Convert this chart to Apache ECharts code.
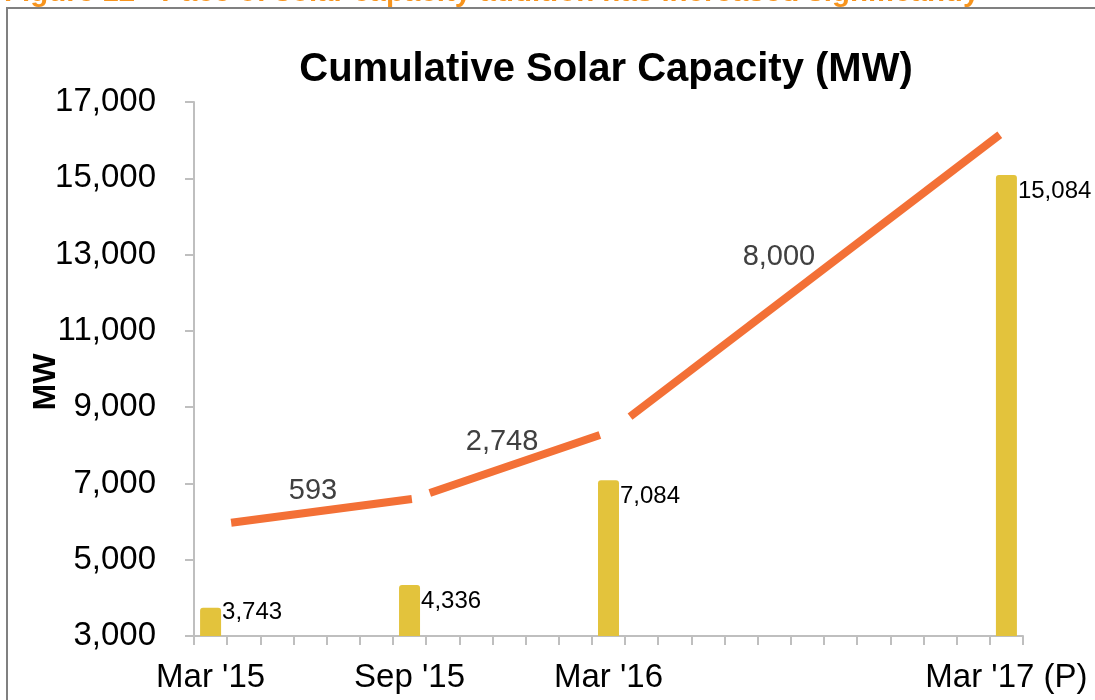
<!DOCTYPE html>
<html>
<head>
<meta charset="utf-8">
<script src="https://cdn.jsdelivr.net/npm/echarts@6/dist/echarts.min.js"></script>
<style>
  html, body { margin: 0; padding: 0; background: #fff; }
  #chart { width: 1095px; height: 700px; }
</style>
</head>
<body>
<div id="chart"></div>
<script>
// monthly slots on the x axis, Mar '15 .. Mar '17
const months = ["Mar '15", "Apr '15", "May '15", "Jun '15", "Jul '15", "Aug '15", "Sep '15",
  "Oct '15", "Nov '15", "Dec '15", "Jan '16", "Feb '16", "Mar '16", "Apr '16", "May '16",
  "Jun '16", "Jul '16", "Aug '16", "Sep '16", "Oct '16", "Nov '16", "Dec '16", "Jan '17",
  "Feb '17", "Mar '17 (P)"]
const shownLabels = ["Mar '15", "Sep '15", "Mar '16", "Mar '17 (P)"]
const capacity = [3743, 4336, 7084, 15084]
const yTicks = [3000, 5000, 7000, 9000, 11000, 13000, 15000, 17000]

// additions drawn as separate orange strokes (x in month slots, y in MW)
const additions = [593, 2748, 8000]
const segStart = [[0.62, 5970], [6.61, 6750], [12.65, 8750]]
const segEnd = [[6.07, 6590], [11.74, 8270], [23.8, 16140]]
const addLabelPos = [[3.09, 6806], [8.79, 8084], [17.14, 12948]]

const fmt = v => Number(v).toLocaleString('en-US')
const font = 'Arial, "Liberation Sans", sans-serif'

var chartDom = document.getElementById('chart')
var myChart = echarts.init(chartDom)

let barData = months.map(m => {
  let k = shownLabels.indexOf(m)
  if (k < 0) return null
  return {
    value: capacity[k],
    label: { position: k === 0 ? [22, 5] : [22, 16] }
  }
})

let segSeries = []
for (let i = 0; i < additions.length; i++) {
  segSeries.push({
    type: 'line',
    xAxisIndex: 1,
    data: [segStart[i], segEnd[i]],
    symbol: 'none',
    lineStyle: { color: '#F37036', width: 8, cap: 'butt' },
    silent: true,
    z: 3
  })
}

var option = {
  animation: false,
  textStyle: { fontFamily: font },
  title: {
    text: 'Cumulative Solar Capacity (MW)',
    left: 606,
    top: 50,
    textAlign: 'center',
    padding: 0,
    textStyle: { fontSize: 40, fontWeight: 'bold', color: '#000', fontFamily: font }
  },
  graphic: [
    {
      type: 'rect',
      shape: { x: 7, y: 8, width: 1120, height: 720 },
      style: { fill: 'none', stroke: '#808080', lineWidth: 2 },
      silent: true
    },
    {
      type: 'text',
      left: 4,
      top: -22,
      style: {
        text: 'Figure 12 - Pace of solar capacity addition has increased significantly',
        fill: '#F7941D',
        font: 'bold 29.5px ' + font
      },
      silent: true
    }
  ],
  grid: { left: 194, right: 72, top: 102, bottom: 64 },
  xAxis: [
    {
      type: 'category',
      data: months,
      boundaryGap: true,
      axisLine: { lineStyle: { color: '#BFBFBF', width: 2 } },
      axisTick: { show: true, interval: 0, length: 9, lineStyle: { color: '#BFBFBF', width: 2 } },
      axisLabel: {
        interval: 0,
        margin: 25,
        fontSize: 33,
        color: '#000',
        formatter: v => (shownLabels.indexOf(v) >= 0 ? v : '')
      }
    },
    {
      type: 'value',
      min: -0.5,
      max: months.length - 0.5,
      show: false
    }
  ],
  yAxis: {
    type: 'value',
    min: yTicks[0],
    max: yTicks[yTicks.length - 1],
    interval: 2000,
    name: 'MW',
    nameLocation: 'middle',
    nameGap: 132,
    nameRotate: 90,
    nameMoveOverlap: false,
    nameTextStyle: { fontSize: 32, fontWeight: 'bold', color: '#000', padding: [0, 26, 0, 0] },
    axisLine: { show: true, onZero: false, lineStyle: { color: '#BFBFBF', width: 2 } },
    axisTick: { show: true, length: 9, lineStyle: { color: '#BFBFBF', width: 2 } },
    splitLine: { show: false },
    axisLabel: { fontSize: 33, color: '#000', margin: 38, formatter: v => fmt(v) }
  },
  series: [
    {
      type: 'bar',
      data: barData,
      barWidth: 21,
      itemStyle: { color: '#E3C33C', borderRadius: [3, 3, 0, 0] },
      label: {
        show: true,
        fontSize: 24,
        color: '#000',
        verticalAlign: 'middle',
        align: 'left',
        formatter: p => fmt(p.value)
      },
      z: 2
    }
  ].concat(segSeries).concat([
    {
      type: 'scatter',
      xAxisIndex: 1,
      symbolSize: 0,
      itemStyle: { opacity: 1 },
      data: addLabelPos.map((p, i) => [p[0], p[1], additions[i]]),
      label: {
        show: true,
        position: 'inside',
        fontSize: 29,
        color: '#404040',
        formatter: p => fmt(p.value[2])
      },
      silent: true,
      z: 4
    }
  ])
}

option && myChart.setOption(option)
</script>
</body>
</html>
